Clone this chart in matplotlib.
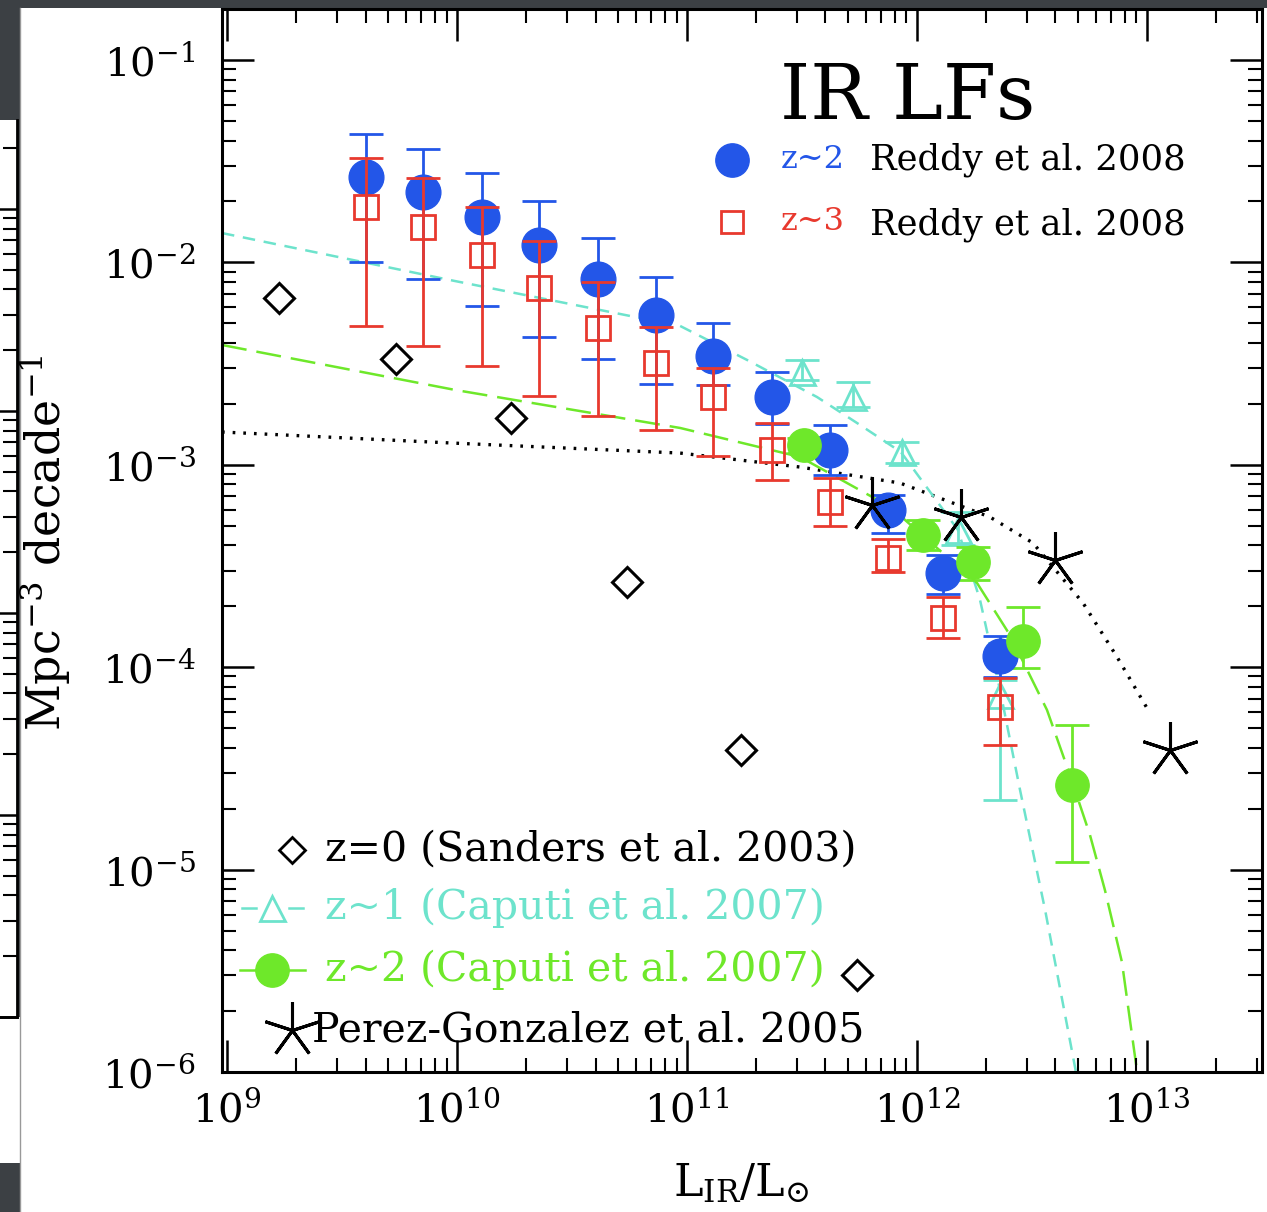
import matplotlib.pyplot as plt
import numpy as np
from matplotlib.patches import Rectangle
from matplotlib.lines import Line2D
from matplotlib.ticker import LogLocator, NullFormatter

plt.rcParams['font.family'] = ['DejaVu Serif']
plt.rcParams['mathtext.fontset'] = 'dejavuserif'

# Reddy et al. 2008 : z~2 (blue filled) and z~3 (red open)
reddy_L = [4.02e9, 7.13e9, 1.28e10, 2.28e10, 4.09e10, 7.33e10, 1.30e11, 2.33e11, 4.19e11, 7.50e11, 1.30e12, 2.30e12]
z2_phi = [2.65e-2, 2.23e-2, 1.68e-2, 1.22e-2, 8.26e-3, 5.50e-3, 3.45e-3, 2.17e-3, 1.19e-3, 5.98e-4, 2.92e-4, 1.13e-4]
z2_hi = [4.30e-2, 3.63e-2, 2.77e-2, 2.00e-2, 1.32e-2, 8.49e-3, 5.04e-3, 2.88e-3, 1.57e-3, 7.10e-4, 3.58e-4, 1.43e-4]
z2_lo = [1.01e-2, 8.26e-3, 6.10e-3, 4.27e-3, 3.32e-3, 2.50e-3, 2.48e-3, 1.59e-3, 8.91e-4, 4.60e-4, 2.30e-4, 8.97e-5]
z3_phi = [1.87e-2, 1.49e-2, 1.09e-2, 7.45e-3, 4.72e-3, 3.17e-3, 2.17e-3, 1.19e-3, 6.58e-4, 3.45e-4, 1.75e-4, 6.38e-5]
z3_hi = [3.29e-2, 2.62e-2, 1.87e-2, 1.28e-2, 7.98e-3, 4.81e-3, 3.00e-3, 1.60e-3, 8.63e-4, 4.28e-4, 2.23e-4, 8.81e-5]
z3_lo = [4.85e-3, 3.86e-3, 3.08e-3, 2.19e-3, 1.74e-3, 1.49e-3, 1.10e-3, 8.41e-4, 4.99e-4, 2.96e-4, 1.39e-4, 4.13e-5]

# Caputi et al. 2007 : z~1 (cyan triangles) and z~2 (green circles)
cap1_L = [3.15e11, 5.28e11, 8.57e11, 1.51e12, 2.30e12]
cap1_phi = [2.88e-3, 2.17e-3, 1.16e-3, 4.76e-4, 7.29e-5]
cap1_hi = [3.30e-3, 2.57e-3, 1.29e-3, 5.85e-4, 8.65e-5]
cap1_lo = [2.62e-3, 1.94e-3, 1.02e-3, 4.02e-4, 2.21e-5]
cap2_L = [3.23e11, 1.06e12, 1.75e12, 2.90e12, 4.71e12]
cap2_phi = [1.25e-3, 4.50e-4, 3.32e-4, 1.34e-4, 2.62e-5]
cap2_hi = [1.35e-3, 5.33e-4, 3.94e-4, 1.99e-4, 5.18e-5]
cap2_lo = [1.15e-3, 3.79e-4, 2.70e-4, 9.89e-5, 1.09e-5]

# Perez-Gonzalez et al. 2005 (stars)
pg_L = [6.35e11, 1.56e12, 3.98e12, 1.26e13]
pg_phi = [6.33e-4, 5.55e-4, 3.39e-4, 3.90e-5]

# Sanders et al. 2003, z=0 (diamonds)
s_L = [1.68e9, 5.41e9, 1.71e10, 5.47e10, 1.72e11, 5.48e11]
s_phi = [6.65e-3, 3.32e-3, 1.70e-3, 2.64e-4, 3.90e-5, 3.01e-6]

# fitted curves (log10 L, log10 phi)
pg_fit_logL = [8.978, 9.970, 10.970, 11.491, 11.926, 12.317, 12.504, 12.722, 12.870, 13.000]
pg_fit_logphi = [-2.838, -2.892, -2.942, -3.011, -3.090, -3.258, -3.386, -3.683, -3.950, -4.202]
cap1_fit_logL = [8.978, 9.991, 10.970, 11.261, 11.565, 11.752, 11.930, 12.178, 12.274, 12.361, 12.448, 12.557, 12.691]
cap1_fit_logphi = [-1.855, -2.092, -2.314, -2.482, -2.665, -2.803, -2.937, -3.322, -3.668, -4.113, -4.607, -5.200, -6.0]
cap2_fit_logL = [8.978, 9.991, 10.970, 11.491, 11.883, 12.261, 12.404, 12.565, 12.665, 12.752, 12.817, 12.891, 12.957]
cap2_fit_logphi = [-2.408, -2.630, -2.818, -2.961, -3.208, -3.584, -3.841, -4.211, -4.533, -4.829, -5.101, -5.457, -6.0]

blue = '#2356e8'
red = '#e8392e'
cyan = '#6de3cc'
green = '#6ee82a'

W, H = 1267, 1212
fig = plt.figure(figsize=(W / 100, H / 100), dpi=100, facecolor='#3c4044')

# slide background pieces
fig.add_artist(Rectangle((20 / W, 0), 1, 1 - 8 / H, transform=fig.transFigure,
                         facecolor='white', edgecolor='none', zorder=-10))
fig.add_artist(Rectangle((0, 1 - 1163 / H), 20 / W, (1163 - 1017) / H, transform=fig.transFigure,
                         facecolor='white', edgecolor='none', zorder=-10))
fig.add_artist(Line2D([20 / W, 20 / W], [0, 1 - 8 / H], transform=fig.transFigure, color='#999999', lw=1))

# neighbouring chart cut off at the left
strip = fig.add_axes([-0.3, 1 - 1017 / H, 0.3 + 17 / W, (1017 - 120) / H])
strip.set_yscale('log')
strip.set_ylim(1e-6, 10 ** (-6 + 897 / 202))
strip.set_xticks([])
strip.spines['top'].set_visible(False)
strip.spines['left'].set_visible(False)
for s in ['right', 'bottom']:
    strip.spines[s].set_linewidth(2)
strip.yaxis.set_major_locator(LogLocator(base=10))
strip.yaxis.set_minor_locator(LogLocator(base=10, subs=np.arange(2, 10)))
strip.tick_params(axis='y', which='both', left=False, right=True, labelleft=False, direction='in')
strip.tick_params(axis='y', which='major', length=23, width=1.8)
strip.tick_params(axis='y', which='minor', length=10, width=1.5)
strip.yaxis.set_minor_formatter(NullFormatter())

ax = fig.add_axes([222 / W, 1 - 1072 / H, 1040 / W, 1063 / H])
ax.set_xscale('log')
ax.set_yscale('log')
ax.set_xlim(10 ** 8.978, 10 ** 13.5)
ax.set_ylim(1e-6, 10 ** -0.748)

# curves
ax.plot(10 ** np.array(pg_fit_logL), 10 ** np.array(pg_fit_logphi), color='k', lw=2.4,
        linestyle=(0, (0.8, 2.4)), zorder=1)
ax.plot(10 ** np.array(cap1_fit_logL), 10 ** np.array(cap1_fit_logphi), color=cyan, lw=1.8,
        linestyle=(0, (5, 3.5)), zorder=1)
ax.plot(10 ** np.array(cap2_fit_logL), 10 ** np.array(cap2_fit_logphi), color=green, lw=1.8,
        linestyle=(0, (10, 4)), zorder=1)

# data points with error bars
def yerr(phi, lo, hi):
    phi, lo, hi = np.array(phi), np.array(lo), np.array(hi)
    return [phi - lo, hi - phi]

ax.errorbar(reddy_L, z2_phi, yerr=yerr(z2_phi, z2_lo, z2_hi), fmt='o', ms=25, color=blue,
            elinewidth=2, capsize=12, capthick=2, zorder=3)
ax.errorbar(reddy_L, z3_phi, yerr=yerr(z3_phi, z3_lo, z3_hi), fmt='s', ms=17, mfc='none', mec=red,
            mew=2, color=red, elinewidth=2, capsize=12, capthick=2, zorder=4)
ax.errorbar(cap1_L, cap1_phi, yerr=yerr(cap1_phi, cap1_lo, cap1_hi), fmt='^', ms=18, mfc='none',
            mec=cyan, mew=2, color=cyan, elinewidth=2, capsize=12, capthick=2, zorder=3)
ax.errorbar(cap2_L, cap2_phi, yerr=yerr(cap2_phi, cap2_lo, cap2_hi), fmt='o', ms=24, color=green,
            elinewidth=2, capsize=12, capthick=2, zorder=3)
ax.plot(pg_L, pg_phi, linestyle='none', marker=(5, 2, 0), ms=41, mew=2.2, color='k', zorder=5)
ax.plot(s_L, s_phi, linestyle='none', marker='D', ms=15, mfc='none', mec='k', mew=2.2, zorder=5)

# axes styling
for s in ax.spines.values():
    s.set_linewidth(2.2)
ax.xaxis.set_major_locator(LogLocator(base=10))
ax.yaxis.set_major_locator(LogLocator(base=10))
ax.xaxis.set_minor_locator(LogLocator(base=10, subs=np.arange(2, 10)))
ax.yaxis.set_minor_locator(LogLocator(base=10, subs=np.arange(2, 10)))
ax.xaxis.set_minor_formatter(NullFormatter())
ax.yaxis.set_minor_formatter(NullFormatter())
ax.tick_params(which='both', direction='in', top=True, right=True)
ax.tick_params(which='major', length=23, width=1.8, labelsize=29)
ax.tick_params(which='minor', length=10, width=1.5)
ax.tick_params(axis='y', pad=19)
ax.tick_params(axis='x', pad=13)

fig.text(45 / W, 1 - 543 / H, r'Mpc$^{-3}$ decade$^{-1}$', rotation=90, ha='center', va='center', fontsize=33)
fig.text(741 / W, 1 - 1183 / H, r'L$_{\rm IR}$/L$_{\odot}$', ha='center', va='center', fontsize=32)

# title and Reddy legend
T = ax.transAxes
ax.text(0.659, 0.916, 'IR LFs', fontsize=55, ha='center', va='center', transform=T)
ax.plot([0.490], [0.858], 'o', ms=24, color=blue, transform=T, clip_on=False)
ax.text(0.537, 0.858, 'z~2', color=blue, fontsize=23, va='center', transform=T)
ax.text(0.623, 0.858, 'Reddy et al. 2008', fontsize=25.5, va='center', transform=T)
ax.plot([0.490], [0.800], 's', ms=16, mfc='none', mec=red, mew=2, transform=T)
ax.text(0.537, 0.800, 'z~3', color=red, fontsize=23, va='center', transform=T)
ax.text(0.623, 0.797, 'Reddy et al. 2008', fontsize=25.5, va='center', transform=T)

# lower-left legend
ax.plot([0.0673], [0.2088], 'D', ms=13, mfc='none', mec='k', mew=2, transform=T)
ax.text(0.099, 0.2088, 'z=0 (Sanders et al. 2003)', fontsize=29.5, va='center', transform=T)
ax.plot([0.0192, 0.0327], [0.1543, 0.1543], color=cyan, lw=1.8, transform=T)
ax.plot([0.0644, 0.0779], [0.1543, 0.1543], color=cyan, lw=1.8, transform=T)
ax.plot([0.048], [0.1543], '^', ms=18, mfc='none', mec=cyan, mew=2, transform=T)
ax.text(0.099, 0.1543, 'z~1 (Caputi et al. 2007)', color=cyan, fontsize=29.5, va='center', transform=T)
ax.plot([0.0173, 0.0798], [0.0960, 0.0960], color=green, lw=1.8, transform=T)
ax.plot([0.048], [0.0960], 'o', ms=24, color=green, transform=T)
ax.text(0.099, 0.0960, 'z~2 (Caputi et al. 2007)', color=green, fontsize=29.5, va='center', transform=T)
ax.plot([0.0673], [0.0395], linestyle='none', marker=(5, 2, 0), ms=41, mew=2.2, color='k', transform=T)
ax.text(0.0865, 0.0395, 'Perez-Gonzalez et al. 2005', fontsize=29.5, va='center', transform=T)

fig.savefig('out.png', dpi=100, facecolor=fig.get_facecolor())
